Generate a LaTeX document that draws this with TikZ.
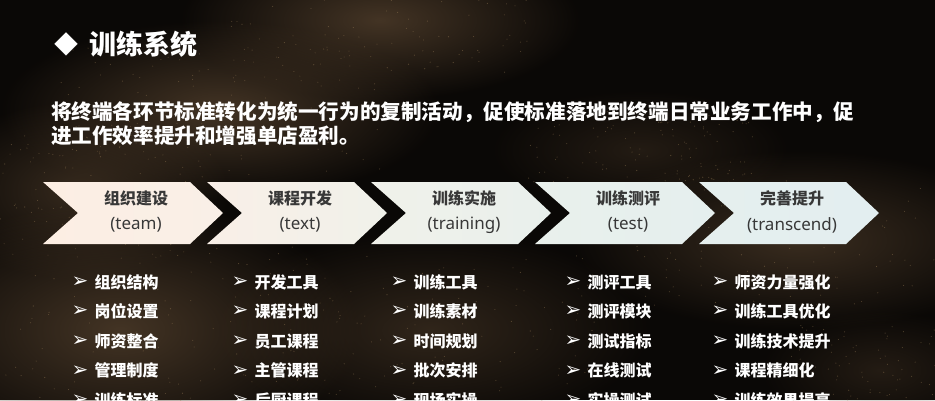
\documentclass[tikz,border=0pt]{standalone}
\usepackage{fontspec}
\setmainfont{Noto Sans CJK SC}
\newfontfamily\symfont{DejaVu Sans}
\newfontfamily\latinfont{Noto Sans}
\usetikzlibrary{fadings}
\definecolor{bgdark}{HTML}{0A0806}
\definecolor{bgbrown}{HTML}{4A3928}
\definecolor{grain}{HTML}{9C8058}
\definecolor{headgray}{HTML}{383838}
\definecolor{chA}{HTML}{FCEEE3}
\definecolor{chB}{HTML}{F9EFE7}
\definecolor{chC}{HTML}{F0F1EA}
\definecolor{chD}{HTML}{E9F0EC}
\definecolor{chE}{HTML}{E5EFEE}
\definecolor{chF}{HTML}{E3EEF0}
\tikzfading[name=softblob, inner color=transparent!0, outer color=transparent!100]

\begin{document}
\begin{tikzpicture}[x=1pt, y=-1pt,
  head/.style={font=\bfseries\fontsize{16}{16}\selectfont, text=headgray, inner sep=0pt},
  sub/.style={font=\latinfont\fontsize{17}{17}\selectfont, text=headgray, inner sep=0pt},
  item/.style={font=\bfseries\fontsize{16}{16}\selectfont, text=white, anchor=west, inner sep=0pt},
  bul/.style={font=\symfont\fontsize{20}{20}\selectfont, text=white, inner sep=0pt}]
\useasboundingbox (0,0) rectangle (935,400);
\clip (0,0) rectangle (935,400);
\fill[bgdark] (0,0) rectangle (935,400);
% background
\pgfmathsetseed{11}
\foreach \cx/\cy/\rx/\ry/\op in {380/20/200/80/.9, 220/110/220/90/.9, 80/190/150/90/.7, 120/330/240/130/.9,
    430/330/220/100/.6, 800/240/230/90/.75, 640/150/150/60/.4, 880/370/120/60/.4} {
  \fill[bgbrown, opacity=\op, path fading=softblob] (\cx,\cy) ellipse [x radius=\rx, y radius=\ry];
  \foreach \k in {1,...,120}
    \fill[grain, opacity=.45] ({\cx+0.75*\rx*rand},{\cy+0.75*\ry*rand}) circle (0.55);
}

\node[text=white, font=\fontsize{24}{24}\selectfont, inner sep=0pt] (dia) at (66,44) {◆};
\node[anchor=west, text=white, font=\bfseries\fontsize{27}{27}\selectfont, inner sep=0pt] (title) at (89,44) {训练系统};
\node[anchor=west, align=left, text=white, font=\bfseries\fontsize{20.6}{23.5}\selectfont, inner sep=0pt] (intro) at (51,123.5)
  {将终端各环节标准转化为统一行为的复制活动，促使标准落地到终端日常业务工作中，促\\进工作效率提升和增强单店盈利。};

% chevrons
\foreach \i/\lc/\rc in {0/chA/chB, 1/chB/chC, 2/chC/chD, 3/chD/chE, 4/chE/chF}
  \shade[left color=\lc, right color=\rc] ({43+164*\i},182) -- ++(147,0) -- ++(33,31)
    -- ++(-33,31) -- ++(-147,0) -- ++(35,-31) -- cycle;
\foreach \i/\ttl/\sb in {0/组织建设/team, 1/课程开发/text, 2/训练实施/training, 3/训练测评/test, 4/完善提升/transcend} {
  \node[head] (h\i) at ({136+164*\i},198) {\ttl};
  \node[sub] (s\i) at ({136+164*\i},225) {(\sb)};
}

% lists
\foreach \x/\lst [count=\c] in {80/{组织结构,岗位设置,师资整合,管理制度,训练标准},
    240/{开发工具,课程计划,员工课程,主管课程,后厨课程},
    399/{训练工具,训练素材,时间规划,批次安排,现场实操},
    573/{测评工具,测评模块,测试指标,在线测试,实操测试},
    720/{师资力量强化,训练工具优化,训练技术提升,课程精细化,训练效果提高}}
  \foreach \t [count=\r] in \lst {
    \node[bul] (b\c-\r) at (\x,{282+29.6*(\r-1)}) {➢};
    \node[item] (t\c-\r) at (\x+14.5,{282+29.6*(\r-1)}) {\t};
  }
\end{tikzpicture}
\end{document}
